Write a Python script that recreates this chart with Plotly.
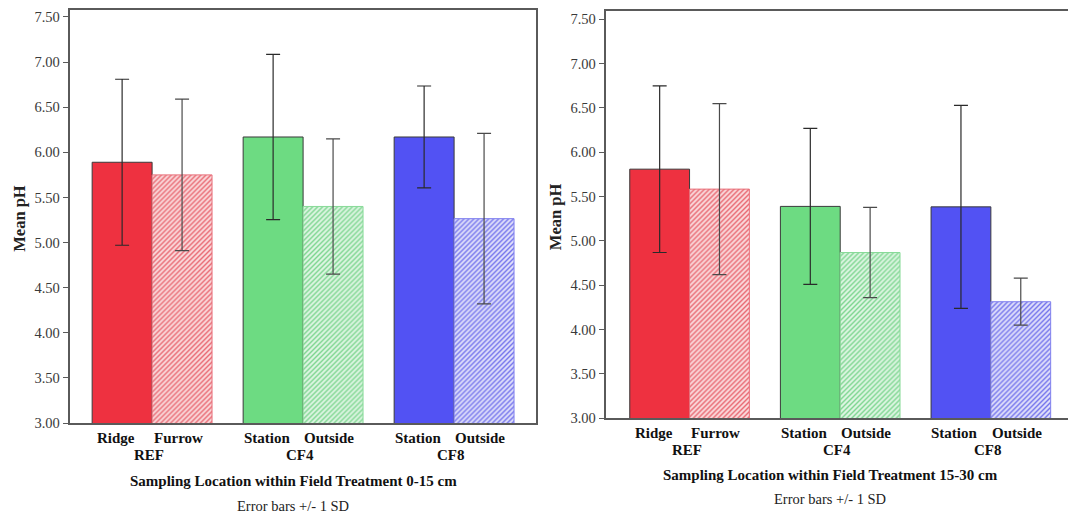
import plotly.graph_objects as go

# ---------------- data ----------------
groups = ["REF", "CF4", "CF8"]
primary_labels = ["Ridge", "Station", "Station"]
secondary_labels = ["Furrow", "Outside", "Outside"]
y_ticks = [3.0, 3.5, 4.0, 4.5, 5.0, 5.5, 6.0, 6.5, 7.0, 7.5]

# 0-15 cm
top_primary_mean = [5.89, 6.17, 6.17]
top_primary_sd = [0.92, 0.915, 0.565]
top_secondary_mean = [5.75, 5.40, 5.265]
top_secondary_sd = [0.84, 0.75, 0.945]

# 15-30 cm
sub_primary_mean = [5.81, 5.39, 5.385]
sub_primary_sd = [0.94, 0.88, 1.145]
sub_secondary_mean = [5.585, 4.87, 4.315]
sub_secondary_sd = [0.965, 0.51, 0.265]

titles = ["Sampling Location within Field Treatment 0-15 cm",
          "Sampling Location within Field Treatment 15-30 cm"]
note = "Error bars +/- 1 SD"

# ---------------- style ----------------
solid_colors = ["#ee3140", "#6ddb82", "#5252f3"]
hatch_fg = ["#e86670", "#7ed690", "#7474ec"]
hatch_bg = ["#fadadc", "#ddf5e2", "#dedefa"]
hatch_line = ["#e8707a", "#88da98", "#8080ee"]
FONT = "Liberation Serif"
W, H = 1068, 513
BW = 0.397  # bar width in category units

fig = go.Figure()

panels = [
    dict(p=(top_primary_mean, top_primary_sd), s=(top_secondary_mean, top_secondary_sd),
         xa="x", ya="y", px=(69.5, 536), py=(9.5, 423), yr=[3.0, 7.583], mirror_y=True,
         spacing=151.0, first=0.547),
    dict(p=(sub_primary_mean, sub_primary_sd), s=(sub_secondary_mean, sub_secondary_sd),
         xa="x2", ya="y2", px=(605.5, 1068), py=(11, 418.3), yr=[3.0, 7.594], mirror_y=False,
         spacing=150.65, first=0.558),
]

for i, pn in enumerate(panels):
    fig.add_trace(go.Bar(
        x=groups, y=pn["p"][0], xaxis=pn["xa"], yaxis=pn["ya"],
        width=BW, offset=-BW,
        marker=dict(color=solid_colors, line=dict(color="#3a3a3a", width=1)),
        error_y=dict(type="data", array=pn["p"][1], color="#2a2a2a", thickness=1.2, width=7),
        showlegend=False, hoverinfo="skip"))
    for k, g in enumerate(groups):
        fig.add_trace(go.Bar(
            x=[g], y=[pn["s"][0][k]], xaxis=pn["xa"], yaxis=pn["ya"],
            width=BW, offset=0,
            marker=dict(color=hatch_bg[k], line=dict(color=hatch_line[k], width=1),
                        pattern=dict(shape="/", fgcolor=hatch_fg[k], bgcolor=hatch_bg[k],
                                     size=3.5, solidity=0.4, fillmode="replace")),
            error_y=dict(type="data", array=[pn["s"][1][k]], color="#4a4a4a", thickness=1.2, width=7),
            showlegend=False, hoverinfo="skip"))

layout = dict(
    width=W, height=H, autosize=False,
    margin=dict(l=0, r=0, t=0, b=0, pad=0, autoexpand=False),
    paper_bgcolor="white", plot_bgcolor="white",
    barmode="overlay",
    showlegend=False,
)

annotations = []
for i, pn in enumerate(panels):
    sfx = "" if i == 0 else str(i + 1)
    x0, x1 = pn["px"]
    ytop, ybot = pn["py"]
    dom_x = [x0 / W, min(x1 / W, 1.0)]
    dom_y = [1 - ybot / H, 1 - ytop / H]
    xr = [-pn["first"], (x1 - x0) / pn["spacing"] - pn["first"]]
    layout["xaxis" + sfx] = dict(
        domain=dom_x, anchor="y" + sfx, type="category", categoryarray=groups,
        range=xr, automargin=False,
        showticklabels=False, ticks="", showgrid=False, zeroline=False,
        showline=True, linecolor="#5a5a5a", linewidth=1.5, mirror=True)
    layout["yaxis" + sfx] = dict(
        domain=dom_y, anchor="x" + sfx, range=pn["yr"], automargin=False,
        tickvals=y_ticks, tickformat=".2f", ticks="outside", ticklen=5,
        tickcolor="#5a5a5a", tickwidth=1.2,
        tickfont=dict(family=FONT, size=14.5, color="#3a3a3a"),
        showgrid=False, zeroline=False,
        showline=True, linecolor="#5a5a5a", linewidth=1.5, mirror=pn["mirror_y"])
    xref = "x" + sfx
    for k, g in enumerate(groups):
        annotations.append(dict(x=k - BW / 2, y=ybot + 14.5, xref=xref, yref="paper",
                                text="<b>%s</b>" % primary_labels[k], showarrow=False,
                                xshift=-6, font=dict(family=FONT, size=15, color="#111")))
        annotations.append(dict(x=k + BW / 2, y=ybot + 14.5, xref=xref, yref="paper",
                                text="<b>%s</b>" % secondary_labels[k], showarrow=False,
                                xshift=-4, font=dict(family=FONT, size=15, color="#111")))
        annotations.append(dict(x=k, y=ybot + 31.5, xref=xref, yref="paper",
                                text="<b>%s</b>" % g, showarrow=False,
                                xshift=-3, font=dict(family=FONT, size=15, color="#111")))
    tx = 293.5 if i == 0 else 830.5
    annotations.append(dict(x=tx / W, y=ybot + 58 - (1.5 if i else 0), xref="paper", yref="paper",
                            text="<b>%s</b>" % titles[i], showarrow=False,
                            font=dict(family=FONT, size=15, color="#111")))
    annotations.append(dict(x=(tx - 0.5) / W, y=ybot + 83 - (2.5 if i else 0), xref="paper", yref="paper",
                            text=note, showarrow=False,
                            font=dict(family=FONT, size=14.5, color="#222")))
    # y-axis title (Mean pH), rotated
    annotations.append(dict(x=(x0 - 50) / W, y=(ytop + ybot) / 2 + 2, xref="paper", yref="paper",
                            text="<b>Mean pH</b>", showarrow=False, textangle=-90,
                            font=dict(family=FONT, size=16.5, color="#222")))

# convert pixel y of annotations to paper coords
for a in annotations:
    a["y"] = 1 - a["y"] / H
    a["yanchor"] = "middle"
    a["xanchor"] = "center"

layout["annotations"] = annotations
fig.update_layout(**layout)

fig.write_html("out.html", config={"displayModeBar": False},
               post_script="document.body.style.margin='0';document.body.style.overflow='hidden';")
